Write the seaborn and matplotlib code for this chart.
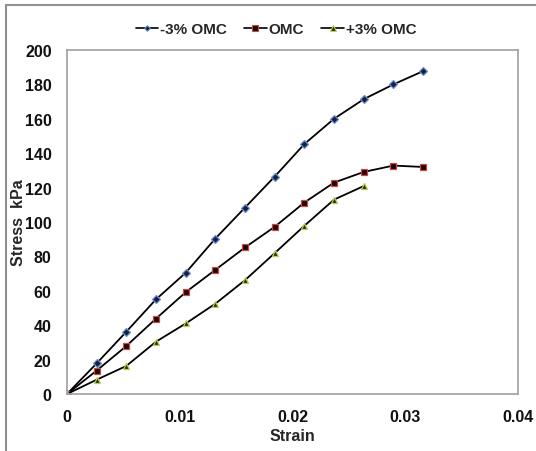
import matplotlib
matplotlib.use("Agg")
import matplotlib.pyplot as plt
import seaborn as sns
import pandas as pd
from matplotlib.lines import Line2D

sns.set_style("white")
plt.rcParams['font.family'] = ['Liberation Sans', 'DejaVu Sans']

strain = [0, 0.00263, 0.00526, 0.00789, 0.01053, 0.01316, 0.01579,
          0.01842, 0.02105, 0.02368, 0.02632, 0.02895, 0.03158]
stress_minus3 = [0, 17.8, 36.2, 55.0, 70.5, 90.4, 108.4, 126.4, 145.3,
                 160.0, 171.4, 180.0, 187.7]
stress_omc = [0, 13.6, 27.9, 43.8, 59.2, 72.2, 85.2, 97.2, 111.3,
              122.9, 129.1, 132.8, 132.0]
stress_plus3 = [0, 8.3, 16.3, 30.4, 41.0, 52.5, 66.2, 81.9, 97.8,
                113.0, 120.9]
labels = ["-3% OMC", "OMC", "+3% OMC"]
x_ticks = [0, 0.01, 0.02, 0.03, 0.04]
x_tick_labels = ["0", "0.01", "0.02", "0.03", "0.04"]
y_ticks = list(range(0, 201, 20))

fig = plt.figure(figsize=(5.36, 4.52), dpi=100)
ax = fig.add_axes([67/536, 1-395/452, (518-67)/536, (395-51)/452])

styles = [
    dict(marker="D", ms=3.6, mfc="#14204a", mec="#7090c8"),
    dict(marker="s", ms=4.6, mfc="#1a0505", mec="#c84848"),
    dict(marker="^", ms=4.6, mfc="#2a3000", mec="#b8cc60"),
]
series = [stress_minus3, stress_omc, stress_plus3]
handles = []
for lab, ys, st in zip(labels, series, styles):
    df = pd.DataFrame({"Strain": strain[:len(ys)], "Stress": ys})
    sns.lineplot(data=df, x="Strain", y="Stress", ax=ax, color="black",
                 linewidth=1.3, sort=False, marker=st["marker"],
                 markersize=st["ms"], markerfacecolor=st["mfc"],
                 markeredgecolor=st["mec"], markeredgewidth=0.9)
    handles.append(Line2D([], [], color="black", linewidth=1.2,
                          marker=st["marker"], markersize=st["ms"] * 0.8,
                          markerfacecolor=st["mfc"], markeredgecolor=st["mec"],
                          markeredgewidth=0.8, label=lab))

ax.set_xlim(0, 0.04)
ax.set_ylim(0, 200)
ax.set_xticks(x_ticks)
ax.set_xticklabels(x_tick_labels)
ax.set_yticks(y_ticks)
for s in ax.spines.values():
    s.set_color("#a0a0a0")
    s.set_linewidth(1.2)
ax.tick_params(axis="both", which="major", direction="out", length=5,
               width=1.0, color="#a0a0a0", labelsize=11.5, pad=6)
for t in ax.get_xticklabels() + ax.get_yticklabels():
    t.set_fontweight("bold")
    t.set_color("#111111")
ax.set_xlabel("Strain", fontsize=11.5, fontweight="bold")
ax.set_ylabel("Stress  kPa", fontsize=11.5, fontweight="bold")
ax.xaxis.set_label_coords(0.5, -(437-395)/344)
ax.yaxis.set_label_coords(-(67-19)/451, 0.5)
ax.xaxis.label.set_va("center")
ax.yaxis.label.set_va("center")

fig.legend(handles=handles, loc="center", bbox_to_anchor=(276/536, 1-30/452),
           ncol=3, frameon=False, handlelength=1.5,
           handletextpad=0.12, columnspacing=1.1,
           prop={"weight": "bold", "size": 11})

# outer frame lines
fig.add_artist(Line2D([5.5/536, 1], [1-5.5/452, 1-5.5/452],
                      transform=fig.transFigure, color="#909090", lw=1.5))
fig.add_artist(Line2D([5.5/536, 5.5/536], [0, 1-5.5/452],
                      transform=fig.transFigure, color="#909090", lw=1.5))

fig.savefig("out.png", dpi=100)
